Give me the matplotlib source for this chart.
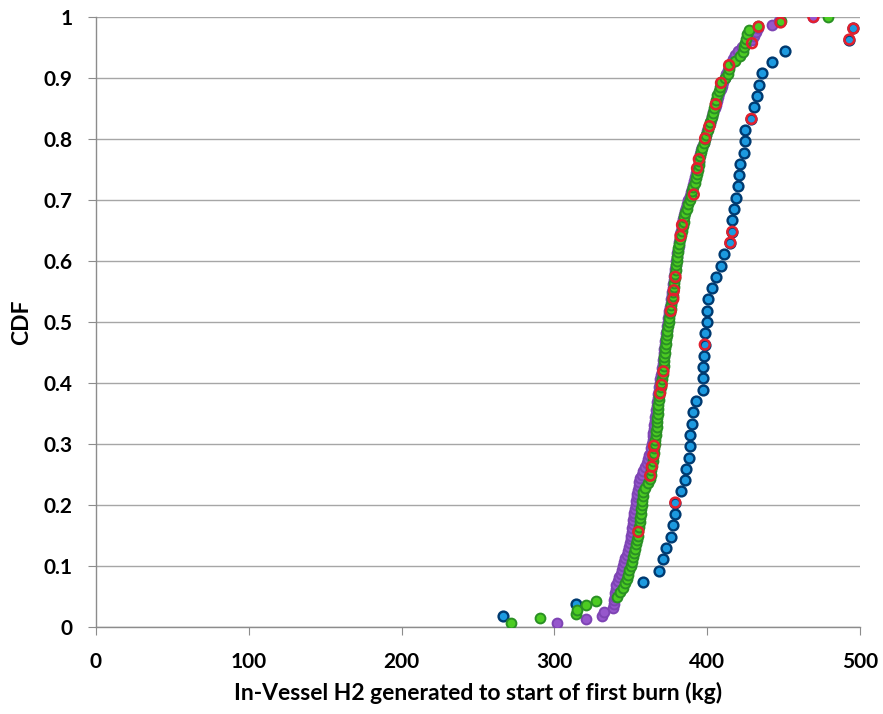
import matplotlib
matplotlib.use("Agg")
import matplotlib.pyplot as plt
import numpy as np

# sorted sample values (kg) for each distribution
blue_x = [266.2, 314.1, 340.0, 357.8, 368.3, 370.9, 372.8, 376.3, 377.4, 378.9,
          379.1, 382.9, 385.3, 386.1, 387.8, 388.5, 388.5, 389.8, 390.4, 392.4,
          397.1, 397.1, 397.3, 397.7, 398.4, 398.4, 399.7, 399.7, 400.7, 402.9,
          406.0, 409.2, 411.0, 415.1, 416.4, 416.4, 417.5, 418.8, 420.3, 420.8,
          421.5, 423.9, 424.5, 424.5, 428.9, 430.4, 432.6, 433.9, 435.9, 442.2,
          450.7, 493.0, 495.6]

purple_x = [301.5, 320.7, 331.0, 332.5, 338.6, 338.8, 339.3, 339.6, 339.8, 340.0,
            340.5, 341.5, 342.5, 343.4, 344.3, 345.1, 345.8, 346.5, 347.2, 347.9,
            348.5, 349.5, 349.9, 350.3, 350.6, 350.9, 351.2, 351.5, 351.9, 352.3,
            352.7, 353.1, 353.5, 353.9, 354.3, 354.7, 355.1, 355.6, 356.0, 357.0,
            358.2, 359.4, 360.5, 361.4, 362.2, 362.9, 363.4, 363.8, 364.2, 364.5,
            364.8, 365.0, 365.3, 365.7, 366.1, 366.5, 366.8, 367.1, 367.4, 367.7,
            368.0, 368.3, 368.6, 368.9, 369.3, 369.7, 370.1, 370.5, 370.8, 371.1,
            371.4, 371.7, 372.0, 372.3, 372.6, 372.9, 373.2, 373.5, 373.8, 374.1,
            374.5, 374.9, 375.3, 375.7, 376.1, 376.5, 376.9, 377.2, 377.5, 377.8,
            378.1, 378.4, 378.7, 379.0, 379.3, 379.6, 379.9, 380.3, 380.7, 381.2,
            381.6, 382.0, 382.4, 382.8, 383.3, 383.8, 384.3, 384.9, 385.5, 386.1,
            386.8, 387.6, 388.4, 389.2, 390.0, 390.7, 391.4, 392.1, 392.7, 393.3,
            393.8, 394.3, 394.8, 395.4, 396.0, 396.8, 397.6, 398.4, 399.2, 400.0,
            400.8, 401.6, 402.4, 403.2, 404.0, 404.8, 405.6, 406.4, 407.2, 408.0,
            408.8, 409.6, 410.5, 411.5, 412.6, 413.6, 414.5, 415.5, 416.6, 418.0,
            420.0, 422.5, 425.5, 429.1, 430.5, 432.0, 433.4, 442.2, 447.2, 469.5]

green_x = [271.6, 290.6, 314.1, 314.6, 320.7, 327.2, 340.8, 343.0, 345.1, 346.2,
           347.3, 348.4, 349.1, 349.9, 350.6, 351.3, 352.0, 352.7, 353.3, 353.8,
           354.4, 354.9, 355.3, 355.7, 356.0, 356.4, 356.8, 357.1, 357.5, 357.8,
           358.2, 359.6, 361.1, 362.6, 363.0, 363.3, 363.7, 364.2, 364.7, 365.0,
           365.3, 365.6, 366.0, 366.3, 366.6, 366.9, 367.1, 367.3, 367.6, 367.8,
           368.0, 368.4, 368.7, 369.1, 369.5, 370.0, 370.4, 370.8, 371.3, 371.5,
           371.7, 371.9, 372.2, 372.4, 372.8, 373.1, 373.5, 373.9, 374.4, 374.8,
           375.3, 375.7, 376.1, 376.6, 377.0, 377.4, 377.8, 378.1, 378.5, 378.9,
           379.2, 379.5, 379.7, 380.0, 380.4, 380.7, 381.1, 381.7, 382.3, 382.9,
           383.4, 383.9, 384.5, 385.0, 385.5, 386.6, 387.6, 388.5, 389.3, 390.2,
           391.0, 391.7, 392.4, 393.1, 393.8, 394.3, 394.8, 395.4, 395.9, 396.8,
           397.7, 398.6, 399.5, 400.5, 401.4, 402.1, 402.9, 403.6, 404.4, 405.1,
           405.9, 406.6, 407.4, 408.2, 409.0, 411.4, 413.8, 414.0, 414.3, 418.2,
           421.5, 423.6, 424.1, 424.7, 425.3, 425.9, 427.4, 433.4, 448.3, 479.3]

# red-ringed points (drawn on top of the other series)
red_x = [354.9, 362.6, 363.7, 364.7, 365.2, 369.1, 370.2, 371.3,
         376.1, 377.8, 378.2, 379.2, 382.5, 383.5, 391.2, 393.3, 394.5, 398.6,
         401.4, 405.6, 409.0, 414.3, 429.3, 433.6, 448.0, 469.5,
         379.1, 398.4, 415.1, 416.4, 428.9, 493.0, 495.6]
red_y = [0.156, 0.248, 0.263, 0.282, 0.297, 0.383, 0.397, 0.419,
         0.518, 0.538, 0.552, 0.574, 0.641, 0.659, 0.709, 0.752, 0.767, 0.801,
         0.821, 0.857, 0.892, 0.921, 0.957, 0.984, 0.991, 1.0,
         0.204, 0.463, 0.630, 0.648, 0.833, 0.963, 0.981]

# CDF ranks; blue has one tied/hidden sample so it is ranked out of 54
blue_y = np.arange(1, len(blue_x) + 1) / 54
purple_y = np.arange(1, len(purple_x) + 1) / len(purple_x)
green_y = np.arange(1, len(green_x) + 1) / len(green_x)

plt.rcParams['font.family'] = ['Lato', 'DejaVu Sans']

fig = plt.figure(figsize=(8.83, 7.14), dpi=100)
ax = fig.add_axes([0.1087, 0.1218, 0.8653, 0.8544])

ms = 50
ax.scatter(blue_x, blue_y, s=ms, facecolor='#1c9ae0', edgecolor='#003a70', linewidth=1.7, zorder=3)
ax.scatter(purple_x, purple_y, s=ms, facecolor='#9657cc', edgecolor='#7e44b4', linewidth=1.4, zorder=4)
ax.scatter(green_x, green_y, s=ms, facecolor='#4ccc22', edgecolor='#2a9024', linewidth=1.4, zorder=5)
ax.scatter(red_x, red_y, s=ms, facecolor='none', edgecolor='#e3202e', linewidth=1.8, zorder=6)

ax.set_xlim(0, 500)
ax.set_ylim(0, 1)
ax.set_xticks(range(0, 501, 100))
ax.set_yticks(np.arange(0, 1.01, 0.1))
ax.set_yticklabels(['0', '0.1', '0.2', '0.3', '0.4', '0.5', '0.6', '0.7', '0.8', '0.9', '1'])

ax.grid(axis='y', color='#a6a6a6', linewidth=1.0)
ax.set_axisbelow(True)
for side in ['top', 'right']:
    ax.spines[side].set_visible(False)
for side in ['left', 'bottom']:
    ax.spines[side].set_color('#8c8c8c')
    ax.spines[side].set_linewidth(1.0)

ax.tick_params(axis='x', direction='out', length=6, color='#8c8c8c', pad=12, labelsize=15)
ax.tick_params(axis='y', direction='out', length=6, color='#8c8c8c', pad=11, labelsize=15)
for lab in ax.get_xticklabels() + ax.get_yticklabels():
    lab.set_fontweight('bold')

ax.set_xlabel('In-Vessel H2 generated to start of first burn (kg)', fontsize=16.5,
              fontweight='bold', labelpad=7)
ax.set_ylabel('CDF', fontsize=16.5, fontweight='bold', labelpad=8)

fig.savefig('out.png', dpi=100)
